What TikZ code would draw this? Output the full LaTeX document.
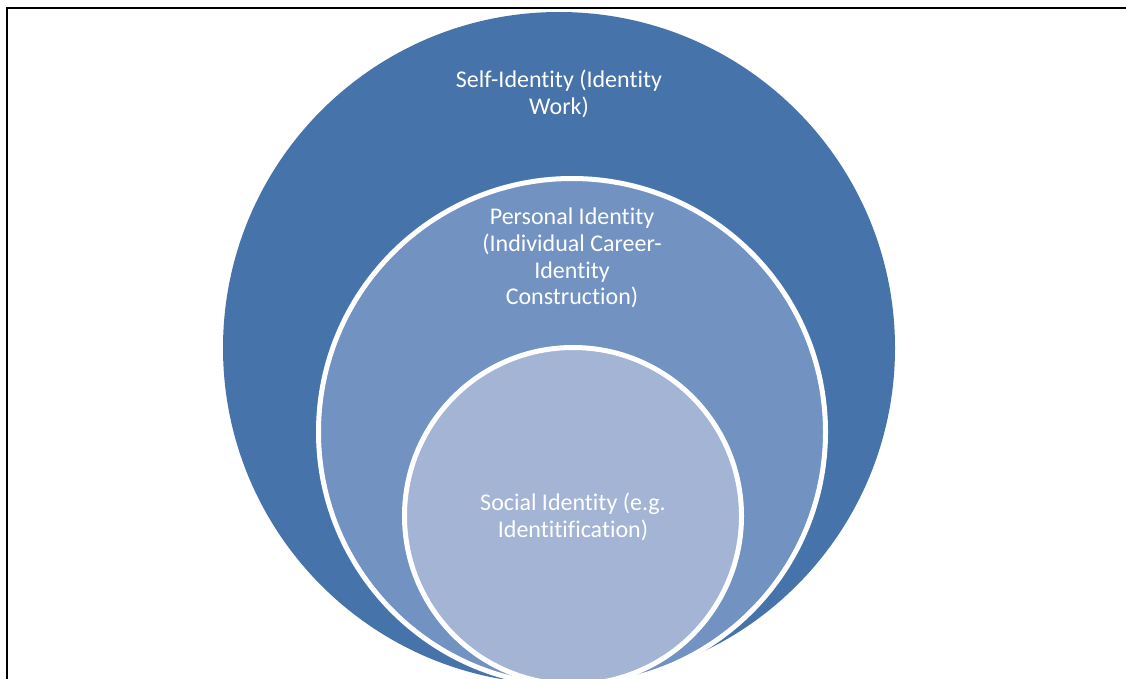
\documentclass[tikz,border=0pt]{standalone}
\usepackage{fontspec}
\setmainfont[Ligatures=NoCommon]{Carlito}
\definecolor{selfblue}{HTML}{4673A9}
\definecolor{personalblue}{HTML}{7292C1}
\definecolor{socialblue}{HTML}{A3B4D5}
\begin{document}
\begin{tikzpicture}[x=1pt,y=-1pt,
  ring/.style={circle,inner sep=0pt,draw=white,line width=5pt},
  lbl/.style={text=white,align=center,font=\fontsize{24}{26.7}\selectfont}]
\useasboundingbox (0,0) rectangle (1126,679);
\begin{scope}
\clip (0,0) rectangle (1126,679);
\node[ring,fill=selfblue,draw=none,minimum size=672pt] (self) at (559,348) {};
\node[ring,fill=personalblue,minimum size=507pt] (personal) at (572,432) {};
\node[ring,fill=socialblue,minimum size=337pt] (social) at (573,516) {};
\end{scope}
% frame lines along the top and left edges
\draw[line width=2pt] (7,679) -- (7,8) -- (1126,8);
% circle labels
\node[lbl] (selft) at (559,94) {Self-Identity (Identity\\Work)};
\node[lbl] (perst) at (572,258) {Personal Identity\\(Individual Career-\\Identity\\Construction)};
\node[lbl] (soct) at (573,517) {Social Identity (e.g.\\Identitification)};
\end{tikzpicture}
\end{document}
